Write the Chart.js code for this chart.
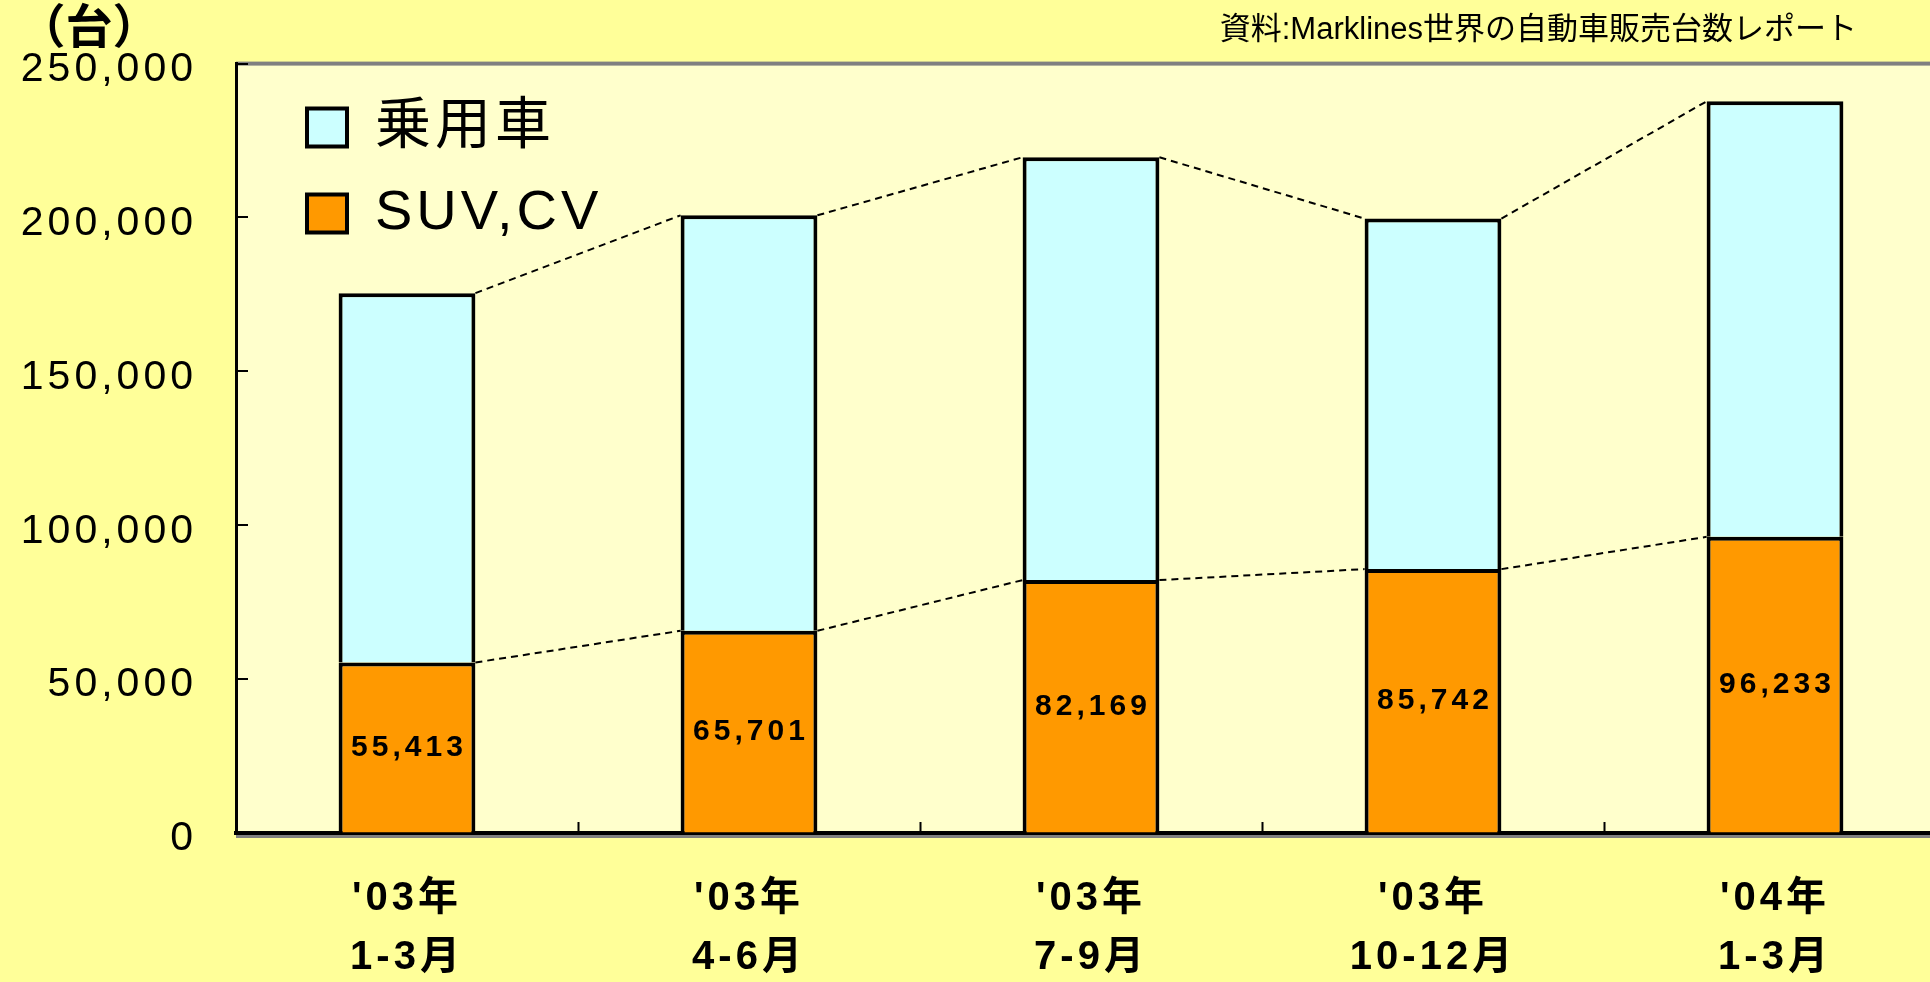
<!DOCTYPE html>
<html lang="ja">
<head>
<meta charset="utf-8">
<title>乗用車・SUV,CV 販売台数</title>
<script src="https://cdn.jsdelivr.net/npm/chart.js@4.4.1/dist/chart.umd.min.js"></script>
<style>
  html, body { margin: 0; padding: 0; overflow: hidden; background: #ffff99; }
  #wrap { position: relative; width: 1960px; height: 982px; }
</style>
</head>
<body>
<div id="wrap"><canvas id="chart"></canvas></div>
<script>
// data
const quarterLabels = [
  ["'03年", "1-3月"],
  ["'03年", "4-6月"],
  ["'03年", "7-9月"],
  ["'03年", "10-12月"],
  ["'04年", "1-3月"],
];
const suvCv = [55413, 65701, 82169, 85742, 96233];
const passengerCars = [120000, 135000, 137400, 113900, 141500];
const yTicks = [0, 50000, 100000, 150000, 200000, 250000];
const unitLabel = "（台）";
const sourceNote = "資料:Marklines世界の自動車販売台数レポート";

const FONT = '"Liberation Sans", "Noto Sans CJK JP", sans-serif';

// backgrounds, dashed connectors, value labels, inward ticks, header texts
const decorations = {
  id: "decorations",
  afterLayout(chart) {
    // legend sits inside the plot, a bit away from the axes
    const lg = chart.legend;
    const a = chart.chartArea;
    const w = lg.right - lg.left;
    const h = lg.bottom - lg.top;
    lg.left = a.left + 41;
    lg.right = lg.left + w;
    lg.top = a.top + 6;
    lg.bottom = lg.top + h;
  },
  beforeDraw(chart) {
    const { ctx, chartArea: a, width } = chart;
    ctx.save();
    ctx.fillStyle = "#ffffcc";
    ctx.fillRect(a.left, a.top, width - a.left, a.bottom - a.top);
    ctx.fillStyle = "#808080";
    ctx.fillRect(a.left, a.top - 2, width - a.left, 4);
    ctx.fillRect(a.left, a.bottom + 2, width - a.left, 3);
    ctx.restore();
    ctx.letterSpacing = "4px";
  },
  afterDatasetsDraw(chart) {
    const { ctx } = chart;
    ctx.save();
    ctx.strokeStyle = "#000";
    ctx.lineWidth = 2;
    ctx.setLineDash([7, 5]);
    chart.data.datasets.forEach((ds, d) => {
      const bars = chart.getDatasetMeta(d).data;
      for (let i = 0; i < bars.length - 1; i++) {
        const p = bars[i];
        const q = bars[i + 1];
        ctx.beginPath();
        ctx.moveTo(p.x + p.width / 2, p.y);
        ctx.lineTo(q.x - q.width / 2, q.y);
        ctx.stroke();
      }
    });
    ctx.setLineDash([]);

    ctx.font = `bold 30px ${FONT}`;
    ctx.letterSpacing = "4px";
    ctx.textAlign = "center";
    ctx.textBaseline = "middle";
    ctx.fillStyle = "#000";
    chart.getDatasetMeta(0).data.forEach((bar, i) => {
      ctx.fillText(suvCv[i].toLocaleString("en-US"), bar.x + 2, (bar.y + bar.base) / 2);
    });
    ctx.restore();
  },
  afterDraw(chart) {
    const { ctx, chartArea: a, scales } = chart;
    ctx.save();
    ctx.strokeStyle = "#000";
    ctx.lineWidth = 2;
    ctx.beginPath();
    yTicks.forEach((v) => {
      const py = Math.round(scales.y.getPixelForValue(v));
      ctx.moveTo(a.left, py);
      ctx.lineTo(a.left + 12, py);
    });
    for (let i = 0; i < quarterLabels.length - 1; i++) {
      const px = Math.round(scales.x.getPixelForValue(i + 0.5)) + 0.5;
      ctx.moveTo(px, a.bottom);
      ctx.lineTo(px, a.bottom - 11);
    }
    ctx.stroke();

    ctx.fillStyle = "#000";
    ctx.letterSpacing = "0px";
    ctx.textBaseline = "middle";
    ctx.font = `bold 47px ${FONT}`;
    ctx.textAlign = "center";
    ctx.fillText(unitLabel, 89, 30);
    ctx.font = `31px ${FONT}`;
    ctx.textAlign = "right";
    ctx.fillText(sourceNote, 1857, 30);
    ctx.restore();
  },
};

new Chart(document.getElementById("chart"), {
  type: "bar",
  data: {
    labels: quarterLabels,
    datasets: [
      {
        label: "SUV,CV",
        data: suvCv,
        backgroundColor: "#ff9900",
        borderColor: "#000",
        borderWidth: 4,
      },
      {
        label: "乗用車",
        data: passengerCars,
        backgroundColor: "#ccffff",
        borderColor: "#000",
        borderWidth: 4,
      },
    ],
  },
  options: {
    responsive: true,
    maintainAspectRatio: false,
    animation: false,
    devicePixelRatio: 1,
    barPercentage: 0.4,
    categoryPercentage: 1,
    layout: {
      padding: { top: 63, right: 14, bottom: 0, left: 0 },
    },
    plugins: {
      legend: {
        position: "chartArea",
        align: "start",
        reverse: true,
        labels: {
          color: "#000",
          boxWidth: 40,
          boxHeight: 38,
          padding: 30,
          font: { family: FONT, size: 56 },
        },
      },
      tooltip: { enabled: false },
    },
    scales: {
      x: {
        stacked: true,
        z: 1,
        grid: { drawOnChartArea: false, drawTicks: false },
        border: { color: "#000", width: 4 },
        ticks: {
          color: "#000",
          padding: 37,
          autoSkip: false,
          maxRotation: 0,
          font: { family: FONT, size: 40, weight: "bold", lineHeight: 1.46 },
        },
        afterFit: (scale) => {
          scale.height = 149;
        },
      },
      y: {
        stacked: true,
        min: 0,
        max: 250000,
        z: 1,
        grid: { drawOnChartArea: false, drawTicks: false },
        border: { color: "#000", width: 3 },
        ticks: {
          color: "#000",
          padding: 39,
          labelOffset: 6,
          font: { family: FONT, size: 41 },
          callback: (v) => v.toLocaleString("en-US"),
        },
        afterBuildTicks: (scale) => {
          scale.ticks = yTicks.map((v) => ({ value: v }));
        },
        afterFit: (scale) => {
          scale.width = 236;
        },
      },
    },
  },
  plugins: [decorations],
});
</script>
</body>
</html>
